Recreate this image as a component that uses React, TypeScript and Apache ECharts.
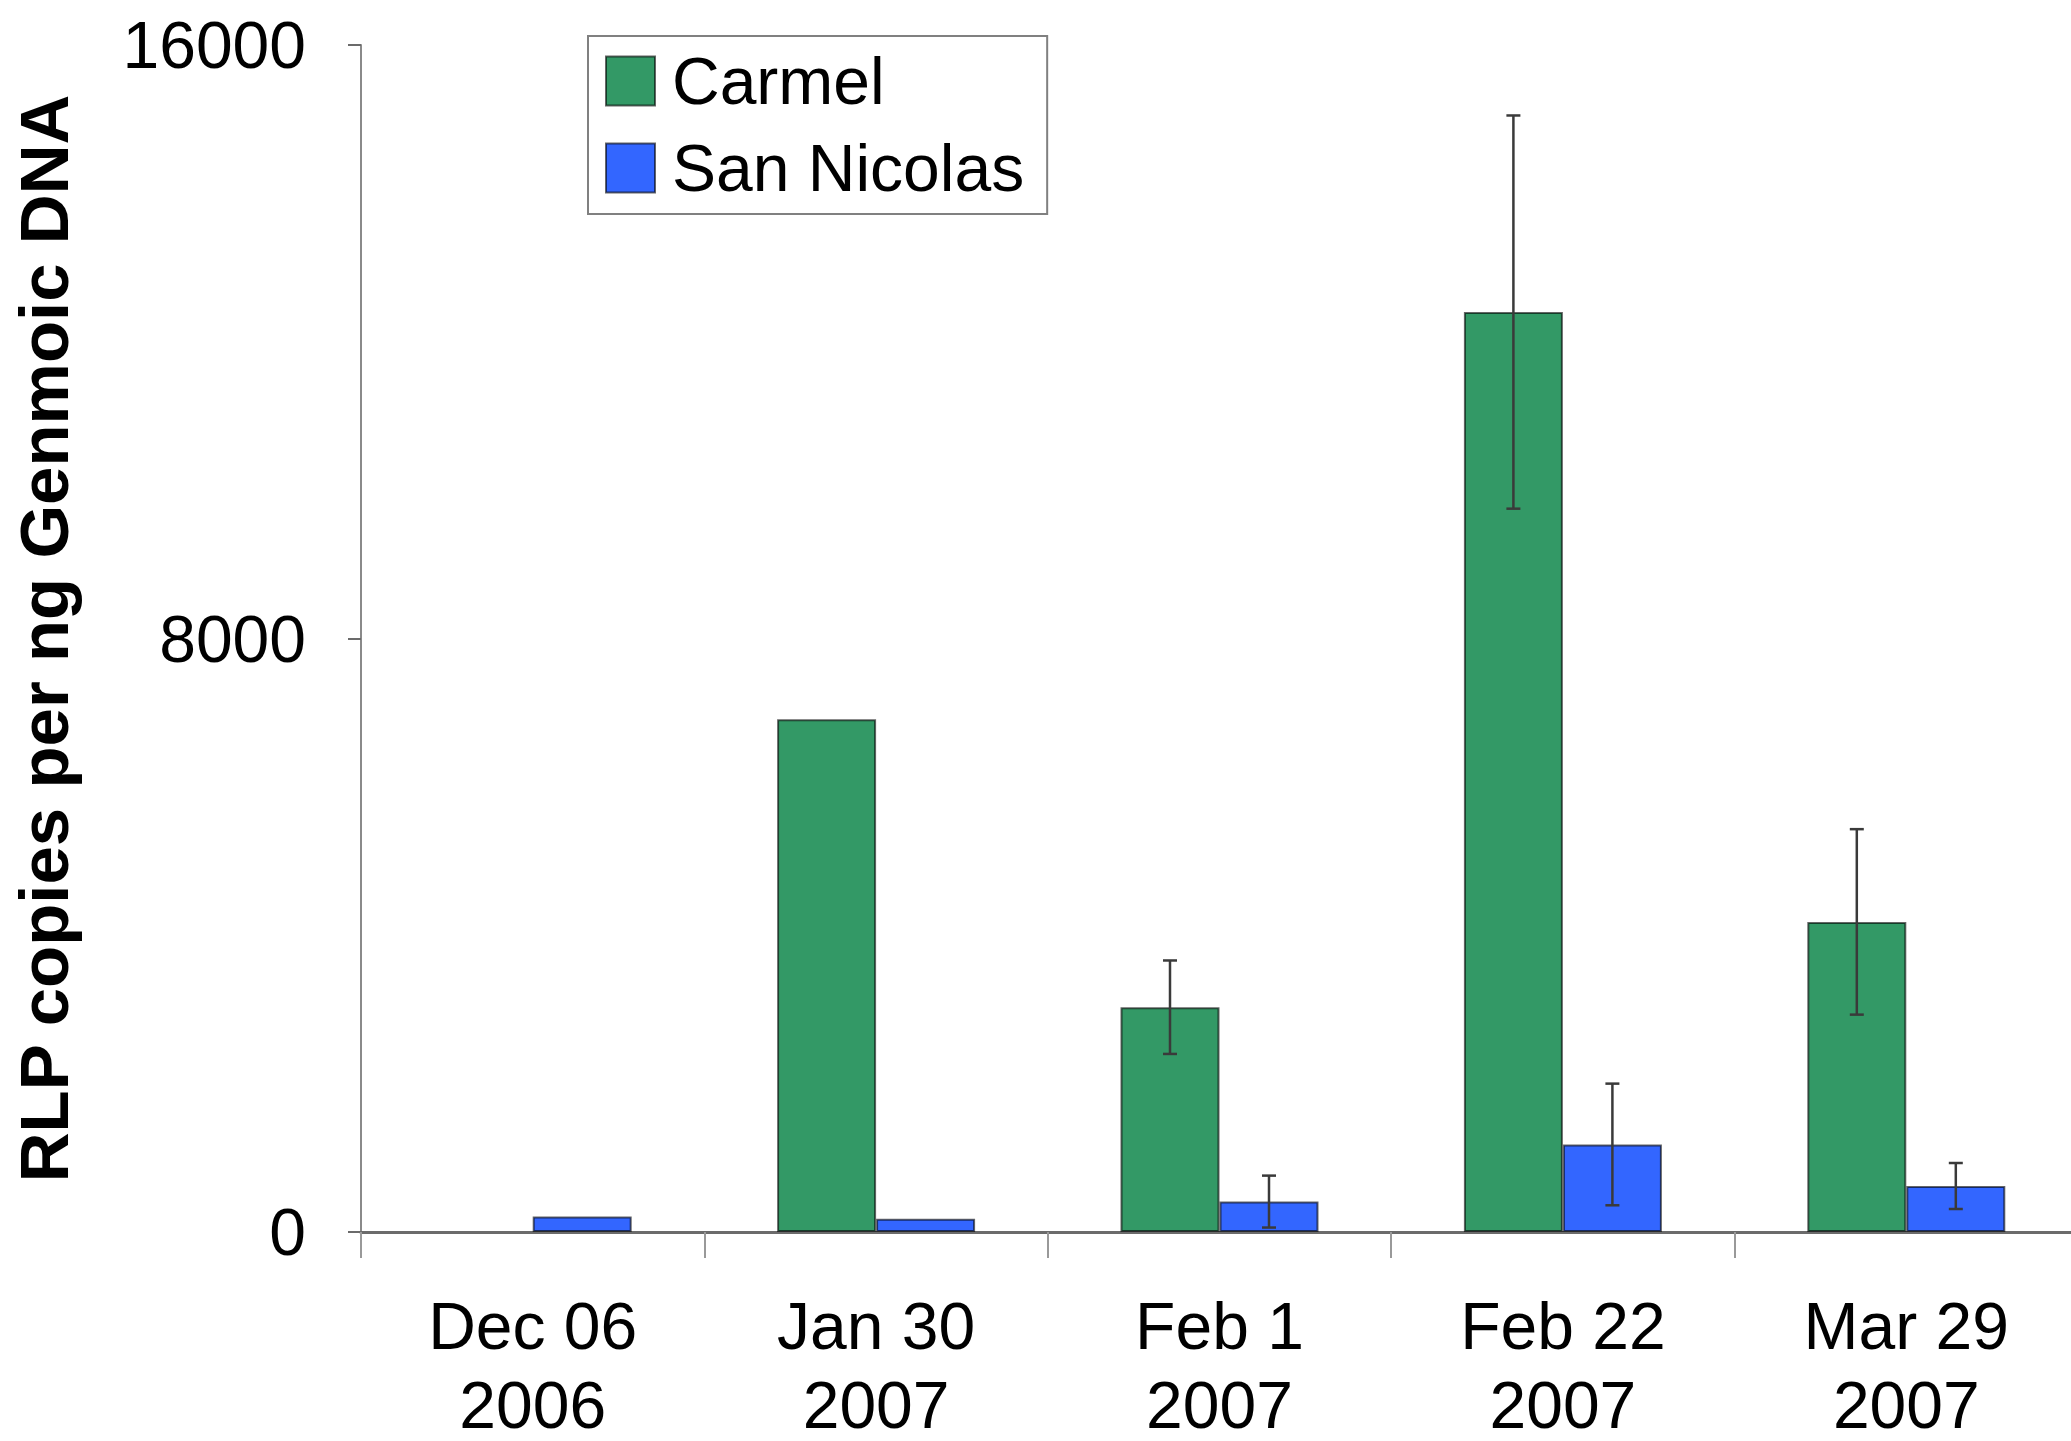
import React, { useEffect, useRef } from "react";
import * as echarts from "echarts";

const categories = ["Dec 06\n2006", "Jan 30\n2007", "Feb 1\n2007", "Feb 22\n2007", "Mar 29\n2007"];
const carmel: (number | null)[] = [null, 6910, 3030, 12400, 4180];
const sanNicolas = [210, 180, 410, 1180, 620];
const carmelErr = [0, 0, 630, 2650, 1250];
const sanNicolasErr = [0, 0, 350, 820, 310];
const yTicks = { min: 0, max: 16000, interval: 8000 };
const seriesNames = ["Carmel", "San Nicolas"];
const colors = ["#339966", "#3366FF"];

const FONT = "'Liberation Sans', Arial, sans-serif";
const BAR_W = 99;

function errData(vals: (number | null)[], errs: number[]) {
  return vals.map((v, i) => [i, v == null ? 0 : v, errs[i]]);
}

function makeErrRender(offset: number) {
  return (params: any, api: any) => {
    const idx = api.value(0);
    const mid = api.value(1);
    const e = api.value(2);
    if (!e) return null;
    const top = api.coord([idx, mid + e]);
    const bot = api.coord([idx, Math.max(0, mid - e)]);
    const x = top[0] + offset;
    const cap = 7;
    const style = { stroke: "#3a3a3a", lineWidth: 2.5 };
    return {
      type: "group",
      children: [
        { type: "line", shape: { x1: x, y1: top[1], x2: x, y2: bot[1] }, style },
        { type: "line", shape: { x1: x - cap, y1: top[1], x2: x + cap, y2: top[1] }, style },
        { type: "line", shape: { x1: x - cap, y1: bot[1], x2: x + cap, y2: bot[1] }, style },
      ],
    };
  };
}

export default function App() {
  const ref = useRef<HTMLDivElement>(null);
  useEffect(() => {
    if (!ref.current) return;
    const chart = echarts.init(ref.current, null, { renderer: "svg" });
    chart.setOption({
      animation: false,
      backgroundColor: "#ffffff",
      textStyle: { fontFamily: FONT },
      grid: {
        left: 361,
        top: 45,
        height: 1187,
        width: 1717,
        containLabel: false,
        outerBoundsMode: "none",
      },
      legend: {
        orient: "vertical",
        left: 588,
        top: 36,
        data: seriesNames,
        icon: "rect",
        itemWidth: 49,
        itemHeight: 49,
        itemGap: 21,
        padding: [12, 23, 13, 17],
        borderColor: "#808080",
        borderWidth: 2,
        backgroundColor: "#ffffff",
        textStyle: { fontSize: 66, color: "#000", fontFamily: FONT, padding: [0, 0, 0, 12] },
      },
      xAxis: {
        type: "category",
        data: categories,
        boundaryGap: true,
        axisLine: { lineStyle: { color: "#6b6b6b", width: 3 } },
        axisTick: { show: true, alignWithLabel: false, length: 26, lineStyle: { color: "#999", width: 2 } },
        axisLabel: { fontSize: 66, lineHeight: 79, color: "#000", margin: 54, fontFamily: FONT, interval: 0 },
      },
      yAxis: {
        type: "value",
        min: yTicks.min,
        max: yTicks.max,
        interval: yTicks.interval,
        name: "RLP copies per ng Genmoic DNA",
        nameLocation: "middle",
        nameGap: 282,
        nameTextStyle: { fontSize: 69, fontWeight: "bold", color: "#000", fontFamily: FONT },
        splitLine: { show: false },
        axisLine: { show: true, lineStyle: { color: "#8a8a8a", width: 2 } },
        axisTick: { show: true, length: 13, lineStyle: { color: "#6b6b6b", width: 2 } },
        axisLabel: {
          fontSize: 66,
          color: "#000",
          margin: 55,
          fontFamily: FONT,
          formatter: (v: number) => String(v),
        },
      },
      series: [
        {
          name: seriesNames[0],
          type: "bar",
          data: carmel,
          barWidth: BAR_W,
          barGap: "0%",
          itemStyle: { color: colors[0], borderColor: "rgba(0,0,0,0.6)", borderWidth: 2 },
        },
        {
          name: seriesNames[1],
          type: "bar",
          data: sanNicolas,
          barWidth: BAR_W,
          barGap: "0%",
          itemStyle: { color: colors[1], borderColor: "rgba(0,0,0,0.6)", borderWidth: 2 },
        },
        {
          type: "custom",
          name: "carmelErr",
          data: errData(carmel, carmelErr),
          renderItem: makeErrRender(-BAR_W / 2),
          encode: { x: 0, y: [1, 2] },
          z: 10,
          silent: true,
        },
        {
          type: "custom",
          name: "sanNicolasErr",
          data: errData(sanNicolas, sanNicolasErr),
          renderItem: makeErrRender(BAR_W / 2),
          encode: { x: 0, y: [1, 2] },
          z: 10,
          silent: true,
        },
      ],
    });
    return () => chart.dispose();
  }, []);
  return (
    <div
      ref={ref}
      style={{ position: "fixed", left: 0, top: 0, width: 2071, height: 1441, background: "#fff" }}
    />
  );
}
